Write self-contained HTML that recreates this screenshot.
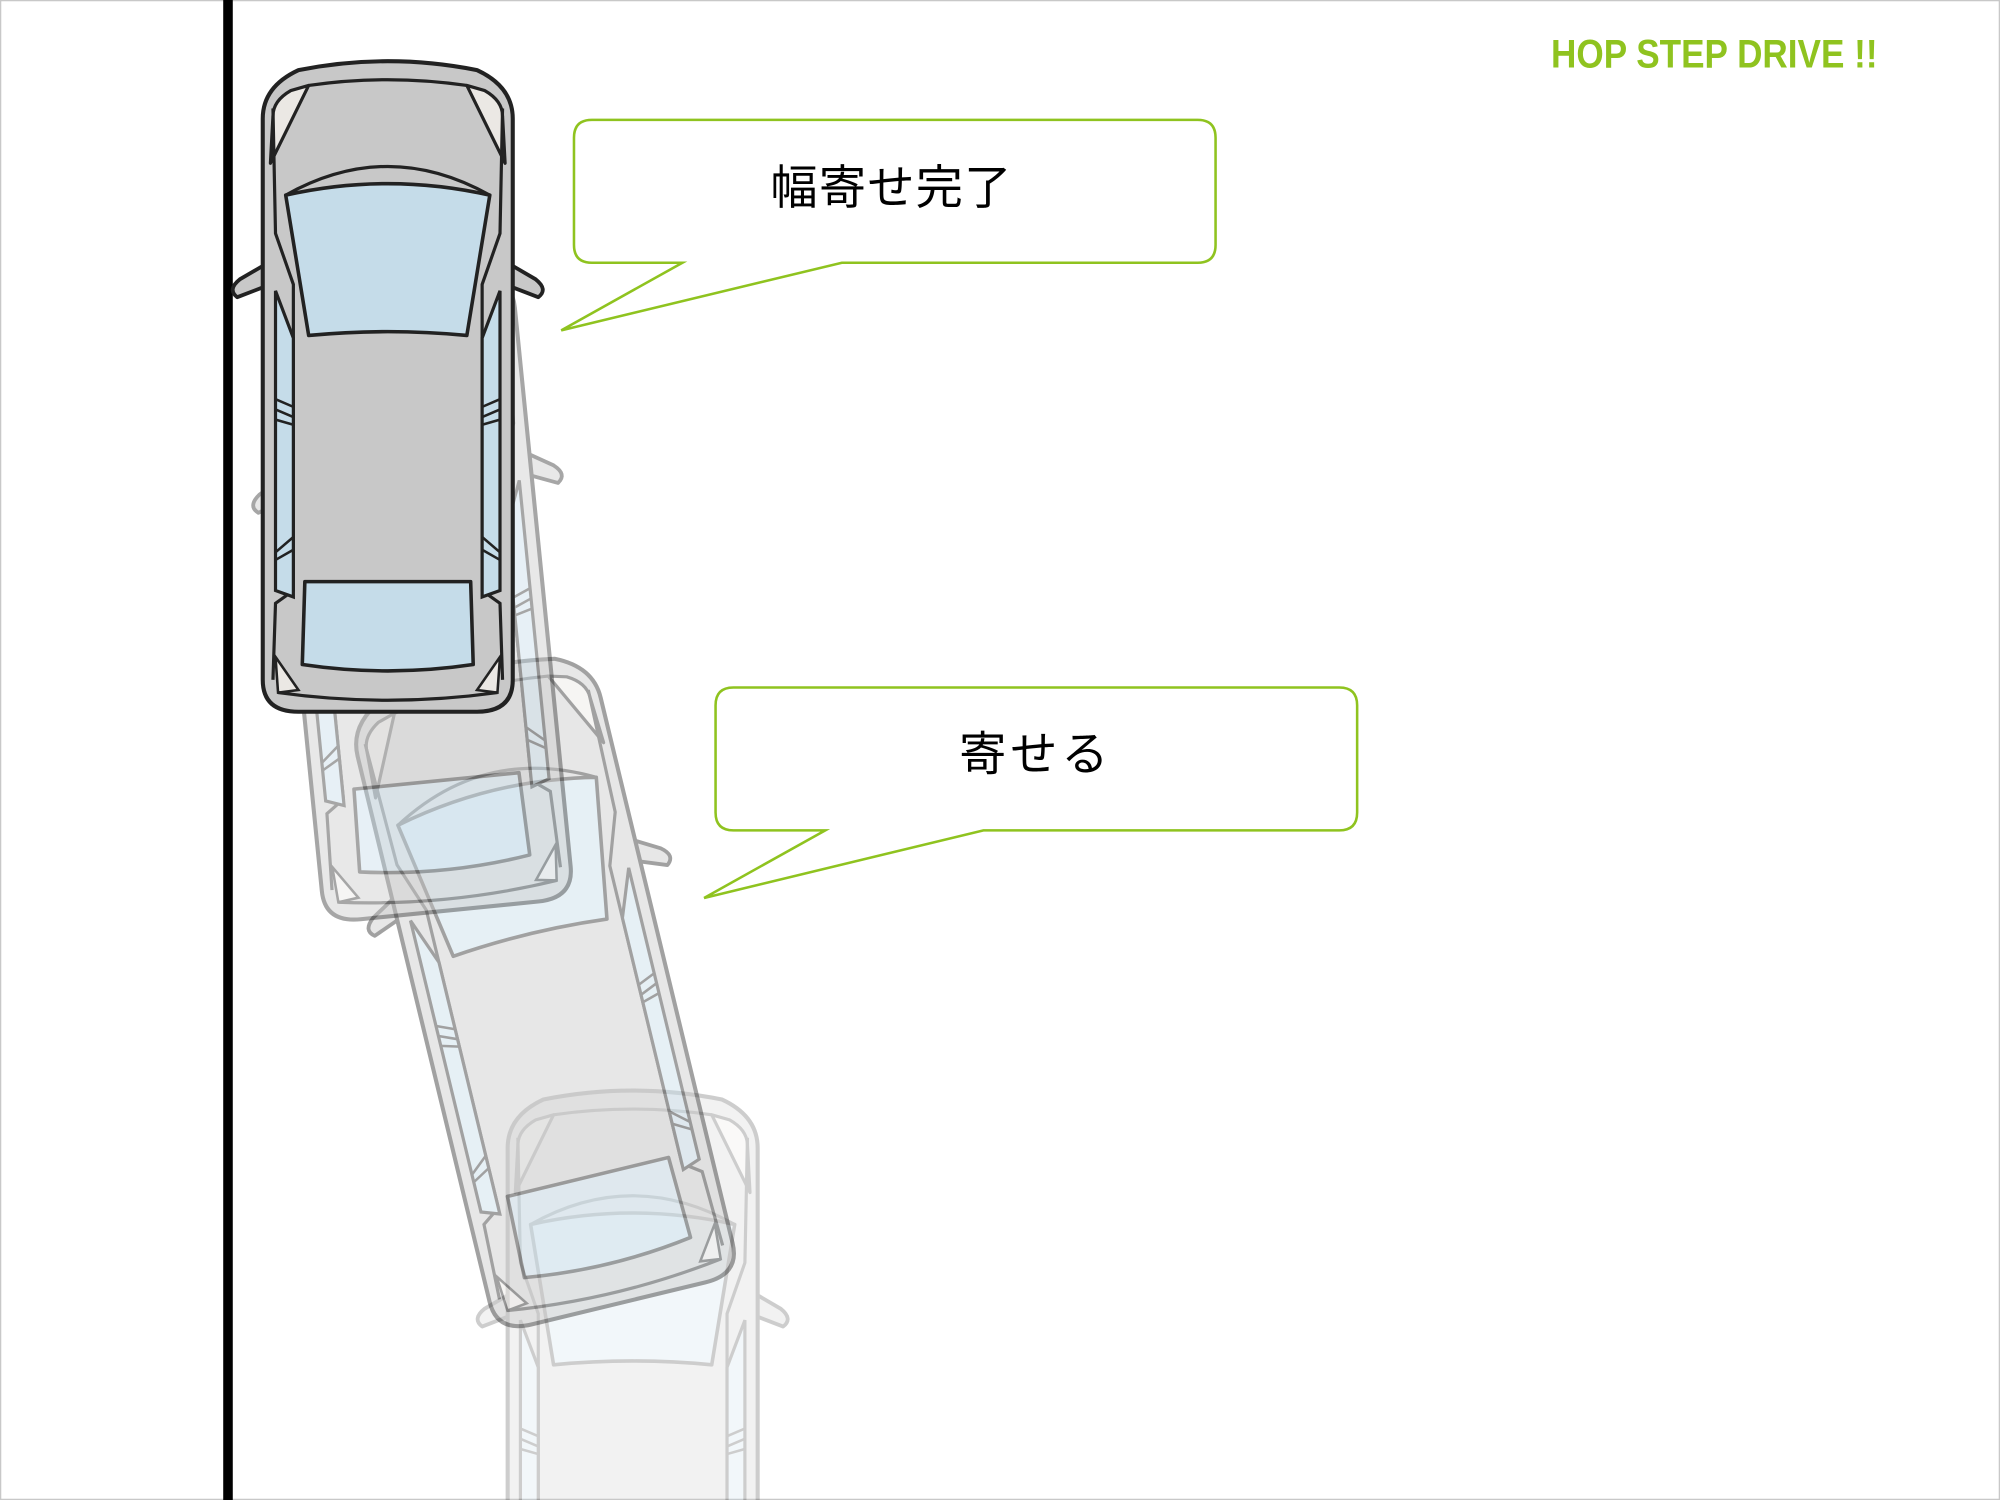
<!DOCTYPE html>
<html><head><meta charset="utf-8"><style>
html,body{margin:0;padding:0;background:#fff;overflow:hidden;width:2000px;height:1500px;}
svg{display:block;}
</style></head><body>
<svg width="2000" height="1500" viewBox="0 0 1568 1176" xmlns="http://www.w3.org/2000/svg">
<defs>
<g id="car">
  <path d="M-116,-84 L-92,-98 L-92,-80 L-118,-70 Q-126,-76 -116,-84 Z" fill="#c8c8c8" stroke="#222" stroke-width="3" stroke-linejoin="round"/>
  <path d="M116,-84 L92,-98 L92,-80 L118,-70 Q126,-76 116,-84 Z" fill="#c8c8c8" stroke="#222" stroke-width="3" stroke-linejoin="round"/>
  <path d="M-98,-210 Q-98,-235 -70,-248 Q0,-262 70,-248 Q98,-235 98,-210 L98,230 Q98,255 70,255 L-70,255 Q-98,255 -98,230 Z" fill="#c8c8c8" stroke="#222" stroke-width="3.2"/>
  <path d="M-90,-212 Q-90,-224 -76,-232 L-62,-236 L-92,-175 Z" fill="#ebe8e4" stroke="#222" stroke-width="2.5" stroke-linejoin="round"/>
  <path d="M90,-212 Q90,-224 76,-232 L62,-236 L92,-175 Z" fill="#ebe8e4" stroke="#222" stroke-width="2.5" stroke-linejoin="round"/>
  <path d="M-62,-236 Q0,-245 62,-236" fill="none" stroke="#222" stroke-width="2.5"/>
  <path d="M-90,-218 L-88,-120 L-74,-80 L-74,160 L-88,170 L-90,230" fill="none" stroke="#222" stroke-width="2.5"/>
  <path d="M90,-218 L88,-120 L74,-80 L74,160 L88,170 L90,230" fill="none" stroke="#222" stroke-width="2.5"/>
  <path d="M-80,-150 Q0,-195 80,-150" fill="none" stroke="#222" stroke-width="2.5"/>
  <path d="M-80,-150 Q0,-168 80,-150 L62,-40 Q0,-46 -62,-40 Z" fill="#c5dce9" stroke="#222" stroke-width="2.8" stroke-linejoin="round"/>
  <path d="M-88,-75 L-74,-38 L-74,165 L-88,160 Z" fill="#c5dce9" stroke="#222" stroke-width="2.5"/>
  <path d="M88,-75 L74,-38 L74,165 L88,160 Z" fill="#c5dce9" stroke="#222" stroke-width="2.5"/>
  <path d="M-88,10 L-74,16 M-88,18 L-74,24 M-88,26 L-74,30 M88,10 L74,16 M88,18 L74,24 M88,26 L74,30 M-88,130 L-74,118 M-88,136 L-74,128 M88,130 L74,118 M88,136 L74,128" stroke="#222" stroke-width="2"/>
  <path d="M-65,153 L65,153 L67,218 Q0,228 -67,218 Z" fill="#c5dce9" stroke="#222" stroke-width="2.8" stroke-linejoin="round"/>
  <path d="M-88,212 L-70,238 L-86,240 Z" fill="#ebe8e4" stroke="#222" stroke-width="2"/>
  <path d="M88,212 L70,238 L86,240 Z" fill="#ebe8e4" stroke="#222" stroke-width="2"/>
  <path d="M-86,240 Q0,252 86,240" fill="none" stroke="#222" stroke-width="2.5"/>
</g>
</defs>
<rect x="0.5" y="0.5" width="1567" height="1175" fill="#fff" stroke="#c8c8c8" stroke-width="1"/>
<rect x="175" y="0" width="7.5" height="1176" fill="#000"/>

<g opacity="0.22"><use href="#car" transform="translate(496,1110)"/></g>
<g opacity="0.42"><use href="#car" transform="translate(425,774) rotate(-13.6)"/></g>
<g opacity="0.4"><use href="#car" transform="translate(327,460) rotate(-5.7)"/></g>
<use href="#car" transform="translate(304,303)"/>

<g fill="#fff" stroke="#8fc31f" stroke-width="2" stroke-linejoin="miter">
  <path d="M464,94 L939,94 Q953,94 953,108 L953,192 Q953,206 939,206 L660,206 L440,259 L535,206 L464,206 Q450,206 450,192 L450,108 Q450,94 464,94 Z"/>
  <path d="M575,539 L1050,539 Q1064,539 1064,553 L1064,637 Q1064,651 1050,651 L771,651 L552,704 L647,651 L575,651 Q561,651 561,637 L561,553 Q561,539 575,539 Z"/>
</g>
<text x="699" y="160" text-anchor="middle" font-family="'Liberation Sans','Noto Sans CJK JP',sans-serif" font-size="37" fill="#000" letter-spacing="1">幅寄せ完了</text>
<text x="812" y="604" text-anchor="middle" font-family="'Liberation Sans','Noto Sans CJK JP',sans-serif" font-size="37" fill="#000" letter-spacing="3">寄せる</text>
<text x="1216" y="53" font-family="'Liberation Sans',sans-serif" font-weight="bold" font-size="31" fill="#8fc31f" textLength="256" lengthAdjust="spacingAndGlyphs">HOP STEP DRIVE !!</text>
</svg>
</body></html>
